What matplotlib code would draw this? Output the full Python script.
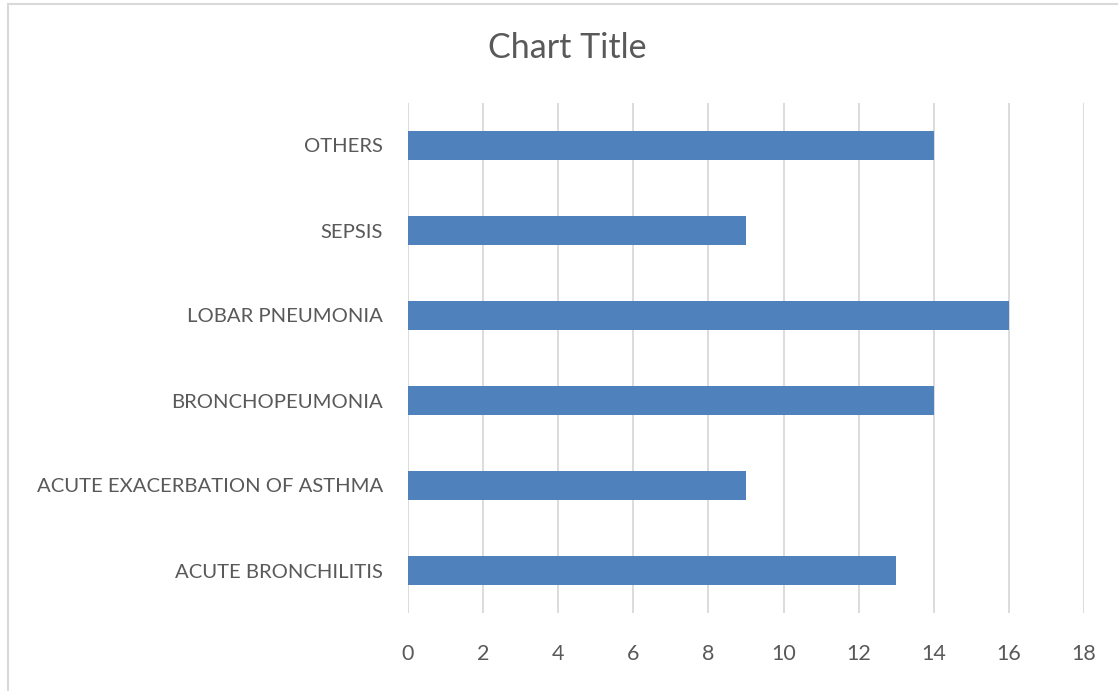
import matplotlib.pyplot as plt
from matplotlib.patches import Rectangle

# data
causes = ['ACUTE BRONCHILITIS', 'ACUTE EXACERBATION OF ASTHMA', 'BRONCHOPEUMONIA',
          'LOBAR PNEUMONIA', 'SEPSIS', 'OTHERS']
counts = [13, 9, 14, 16, 9, 14]
xticks = [0, 2, 4, 6, 8, 10, 12, 14, 16, 18]

plt.rcParams['font.family'] = ['Lato', 'DejaVu Sans']
txt = '#595959'

fig = plt.figure(figsize=(11.18, 6.91), dpi=100)
# chart border (Excel style), runs off the right/bottom edge
fig.patches.append(Rectangle((8 / 1118, -0.05), 1.1, 1 - 4 / 691 + 0.05,
                             transform=fig.transFigure, fill=False,
                             edgecolor='#d9d9d9', linewidth=1.5))

ax = fig.add_axes([408 / 1118, 78 / 691, 676 / 1118, 510 / 691])
ax.barh(range(len(causes)), counts, height=0.33, color='#4f81bd', zorder=3)
ax.set_xlim(0, 18)
ax.set_ylim(-0.5, len(causes) - 0.5)
ax.set_xticks(xticks)
ax.set_yticks(range(len(causes)))
ax.set_yticklabels(causes)
ax.grid(axis='x', color='#d9d9d9', linewidth=1.3, zorder=0)
for s in ax.spines.values():
    s.set_visible(False)
ax.tick_params(axis='both', length=0, colors=txt)
ax.tick_params(axis='y', pad=18, labelsize=14.6)
ax.tick_params(axis='x', pad=22, labelsize=15.5)

fig.text(567 / 1118, 1 - 48 / 691, 'Chart Title', ha='center', va='center',
         fontsize=24.5, color=txt)

fig.savefig('out.png', dpi=100)
